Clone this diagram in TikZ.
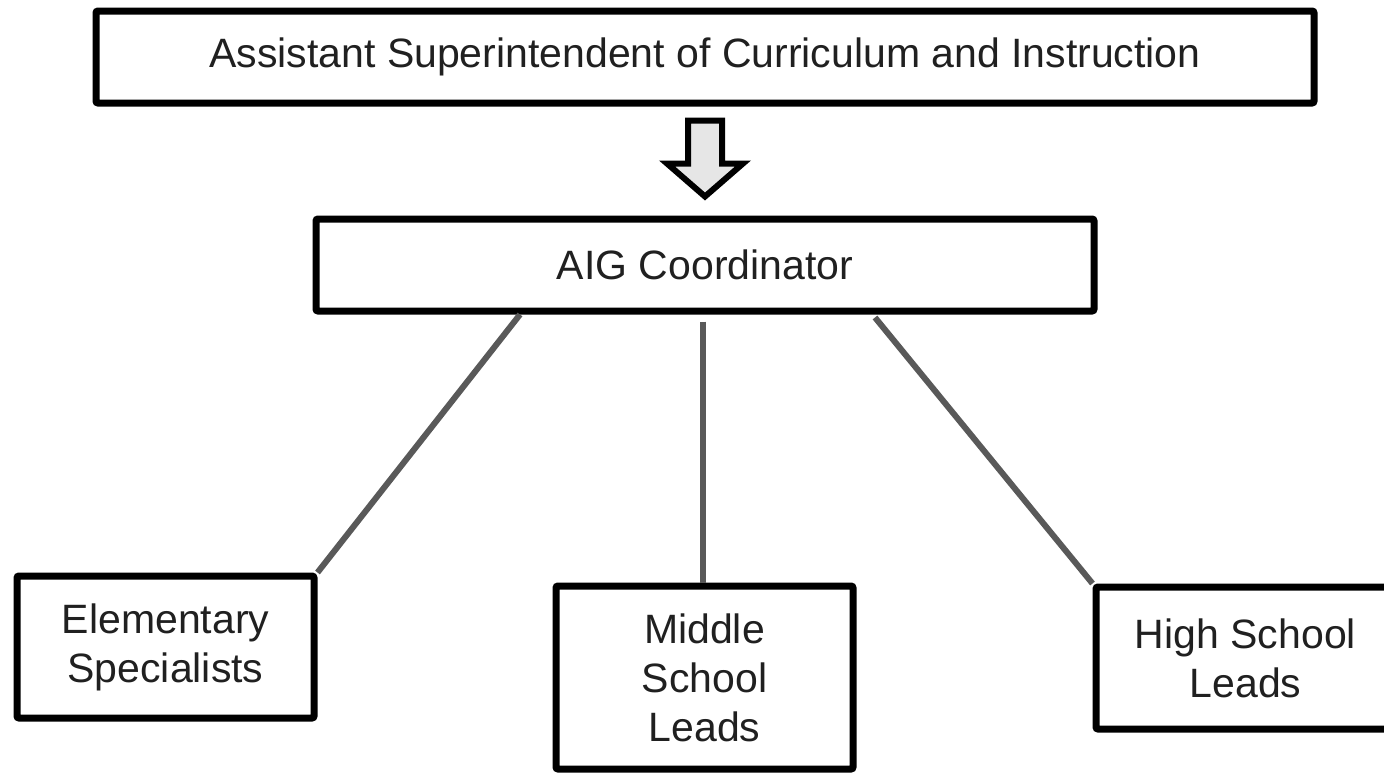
\documentclass[tikz,border=0pt]{standalone}
\usepackage{fontspec}
\setmainfont{Liberation Sans}
\definecolor{txt}{HTML}{202020}
\definecolor{linkgray}{HTML}{595959}
\definecolor{arrowfill}{HTML}{E6E6E6}
\begin{document}
\begin{tikzpicture}[x=1pt,y=-1pt,
  box/.style={draw=black, line width=7pt, fill=white, rounded corners=2pt, inner sep=0pt,
    align=center, font=\fontsize{41}{49}\selectfont, text=txt},
  link/.style={draw=linkgray, line width=6pt},
  bigarrow/.style={draw=black, line width=6pt, fill=arrowfill, line join=miter}]
\useasboundingbox (0,0) rectangle (1384,777);
\fill[white] (0,0) rectangle (1384,777);
\node[box, minimum width=1218pt, minimum height=92pt] (top) at (705,57) {Assistant Superintendent of Curriculum and Instruction};
\node[box, minimum width=778pt, minimum height=92pt] (aig) at (705,265) {AIG Coordinator};
\node[box, minimum width=297pt, minimum height=142pt] (elem) at (165.5,647) {Elementary\\Specialists};
\node[box, minimum width=297pt, minimum height=183pt] (mid) at (704.5,677.5) {Middle\\School\\Leads};
\node[box, minimum width=299pt, minimum height=142pt] (high) at (1245.5,658) {High School\\Leads};
\draw[link] ([xshift=-185pt]aig.south) -- (elem.north east);
\draw[link] ([xshift=-2pt,yshift=-7pt]aig.south) -- ([xshift=-2pt]aig.south |- mid.north);
\draw[link] ([xshift=170pt,yshift=-3pt]aig.south) -- (high.north west);
\path (top.south) ++(0,14) coordinate (ar);
\draw[bigarrow] (ar) ++(-17,0) -- ++(34,0) -- ++(0,43) -- ++(21,0) -- ++(-38,33) -- ++(-38,-33) -- ++(21,0) -- cycle;
\end{tikzpicture}
\end{document}
